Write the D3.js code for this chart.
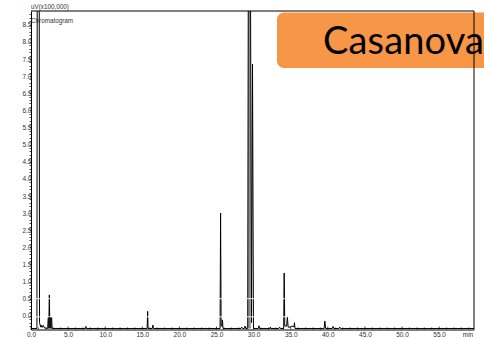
<!DOCTYPE html>
<html>
<head>
<meta charset="utf-8">
<script src="https://cdn.jsdelivr.net/npm/d3@7"></script>
<style>
  html, body { margin: 0; padding: 0; background: #fff; overflow: hidden; }
  svg { display: block; }
</style>
</head>
<body>
<script>
// Retention time (min) and detector signal (uV x 100,000) of the trace
const time = [
  0.0, 0.8, 0.85, 1.1, 1.15, 1.3, 1.4, 1.5, 1.65, 1.8,
  2.25, 2.32, 2.42, 2.47, 2.52, 2.78, 2.85,
  7.35, 7.4, 7.45,
  15.65, 15.72, 15.78, 16.35, 16.42, 16.5,
  25.48, 25.55, 25.62, 25.72, 25.8, 25.88,
  28.3, 28.4, 28.5, 28.75, 28.85, 28.95,
  29.2, 29.3, 29.55, 29.72, 29.85, 29.98,
  30.65, 30.72, 30.8, 32.2, 32.25, 32.3, 33.4, 33.5, 33.6,
  34.05, 34.12, 34.2, 34.45, 34.55, 34.65, 35.0, 35.1, 35.45, 35.5, 35.58,
  39.5, 39.6, 39.7, 40.6, 40.7, 40.8, 41.5, 41.6, 41.7, 59.7
];
const signal = [
  -0.37, -0.37, 12, 12, -0.2, -0.33, -0.27, -0.34, -0.28, -0.35,
  -0.37, -0.05, -0.05, 0.61, -0.05, -0.05, -0.37,
  -0.37, -0.31, -0.37,
  -0.37, 0.13, -0.37, -0.37, -0.27, -0.37,
  -0.37, 3.0, -0.3, -0.3, -0.12, -0.37,
  -0.37, -0.33, -0.37, -0.37, -0.3, -0.37,
  -0.37, 12, 12, -0.2, 7.35, -0.37,
  -0.37, -0.29, -0.37, -0.37, -0.33, -0.37, -0.37, -0.33, -0.37,
  -0.37, 1.25, -0.3, -0.3, -0.03, -0.33, -0.33, -0.3, -0.32, -0.2, -0.37,
  -0.37, -0.15, -0.37, -0.37, -0.31, -0.37, -0.37, -0.33, -0.37, -0.37
];

const xTicks = [0, 5, 10, 15, 20, 25, 30, 35, 40, 45, 50, 55];
const yTicks = [0, 0.5, 1, 1.5, 2, 2.5, 3, 3.5, 4, 4.5, 5, 5.5, 6, 6.5, 7, 7.5, 8, 8.5];
const yUnit = "uV(x100,000)";
const xUnit = "min";
const chartTitle = "Chromatogram";
const badgeText = "Casanova";

const W = 484, H = 339;
const plot = { left: 31, right: 474, top: 11, bottom: 329.5 };

const x = d3.scaleLinear().domain([0, 59.7]).range([plot.left, plot.right]);
const y = d3.scaleLinear().domain([-0.4, 8.9]).range([plot.bottom, plot.top]);

const svg = d3.select("body").append("svg")
  .attr("width", W).attr("height", H)
  .style("font-family", "'Liberation Sans', Arial, sans-serif");

const defs = svg.append("defs");
defs.append("clipPath").attr("id", "plotClip")
  .append("rect")
  .attr("x", plot.left).attr("y", plot.top)
  .attr("width", plot.right - plot.left).attr("height", plot.bottom - plot.top);

const pts = time.map((t, i) => [t, signal[i]]);
const area = d3.area().x(d => x(d[0])).y0(y(-0.37)).y1(d => y(d[1]));

// filled bodies of the broader peaks: [start, end, colour]
const filledPeaks = [[2.3, 2.8, "#111"], [29.25, 29.62, "#8a8a8a"]];

const gPlot = svg.append("g").attr("clip-path", "url(#plotClip)");
filledPeaks.forEach(([t0, t1, c], i) => {
  defs.append("clipPath").attr("id", "fill" + i)
    .append("rect")
    .attr("x", x(t0)).attr("y", plot.top)
    .attr("width", x(t1) - x(t0)).attr("height", plot.bottom - plot.top);
  gPlot.append("path").datum(pts)
    .attr("clip-path", `url(#fill${i})`)
    .attr("fill", c)
    .attr("d", area);
});

gPlot.append("path")
  .datum(pts)
  .attr("fill", "none")
  .attr("stroke", "#000")
  .attr("stroke-width", 1)
  .attr("d", d3.line().x(d => x(d[0])).y(d => y(d[1])));

// thin white level marks crossing the peaks
[0.5, -0.03].forEach(v => {
  svg.append("line")
    .attr("x1", plot.left - 1).attr("x2", plot.right + 1)
    .attr("y1", y(v)).attr("y2", y(v))
    .attr("stroke", "#fff").attr("stroke-width", 1).attr("opacity", 0.9);
});

// frame
svg.append("line").attr("x1", plot.left).attr("x2", plot.right)
  .attr("y1", plot.top).attr("y2", plot.top).attr("stroke", "#000");

// x axis (ticks point inward)
const xAxis = d3.axisBottom(x).tickValues(xTicks).tickSize(0).tickFormat(d3.format(".1f"));
const gx = svg.append("g").attr("transform", `translate(0,${plot.bottom})`).call(xAxis);
gx.select(".domain").attr("stroke", "#000");
gx.selectAll("text").attr("font-size", 6.5).attr("fill", "#333").attr("dy", "0.35em").attr("y", 5.5)
  .attr("font-family", "'Liberation Sans', Arial, sans-serif");
const xMinor = d3.range(0, 60, 1);
svg.append("g").selectAll("line").data(xMinor).join("line")
  .attr("x1", d => x(d)).attr("x2", d => x(d))
  .attr("y1", plot.bottom).attr("y2", d => plot.bottom - (d % 5 === 0 ? 3 : 2))
  .attr("stroke", "#000").attr("stroke-width", 0.7);
svg.append("text").attr("x", 468).attr("y", plot.bottom + 5.5).attr("dy", "0.35em")
  .attr("text-anchor", "middle").attr("font-size", 6.5).attr("fill", "#333").text(xUnit);

// y axis
const yAxis = d3.axisLeft(y).tickValues(yTicks).tickSize(0).tickPadding(0).tickFormat(d3.format(".1f"));
const gy = svg.append("g").attr("transform", `translate(${plot.left},0)`).call(yAxis);
gy.select(".domain").attr("stroke", "#000");
gy.selectAll("text").attr("font-size", 6.5).attr("fill", "#333").attr("x", 0.5)
  .attr("font-family", "'Liberation Sans', Arial, sans-serif");
const yMinor = d3.range(-0.3, 8.9, 0.1);
svg.append("g").selectAll("line").data(yMinor).join("line")
  .attr("x1", plot.left - 1.5).attr("x2", plot.left)
  .attr("y1", d => Math.round(y(d)) + 0.5).attr("y2", d => Math.round(y(d)) + 0.5)
  .attr("stroke", "#000").attr("stroke-width", 0.7);

svg.append("text").attr("x", 31).attr("y", 8.5).attr("font-size", 6.3).attr("fill", "#333").text(yUnit);
svg.append("text").attr("x", 31).attr("y", 23).attr("font-size", 6.3).attr("fill", "#333").text(chartTitle);

// label badge
svg.append("rect").attr("x", 277).attr("y", 12.5).attr("width", 240).attr("height", 55.5)
  .attr("rx", 7).attr("fill", "#F79646");
svg.append("text").attr("x", 323).attr("y", 53.5)
  .attr("font-family", "Lato, 'Open Sans', sans-serif").attr("font-size", 38)
  .attr("textLength", 161).attr("lengthAdjust", "spacing")
  .attr("fill", "#000").text(badgeText);

// right frame edge drawn over the badge
svg.append("line").attr("x1", plot.right).attr("x2", plot.right)
  .attr("y1", plot.top).attr("y2", plot.bottom).attr("stroke", "#000");
</script>
</body>
</html>
